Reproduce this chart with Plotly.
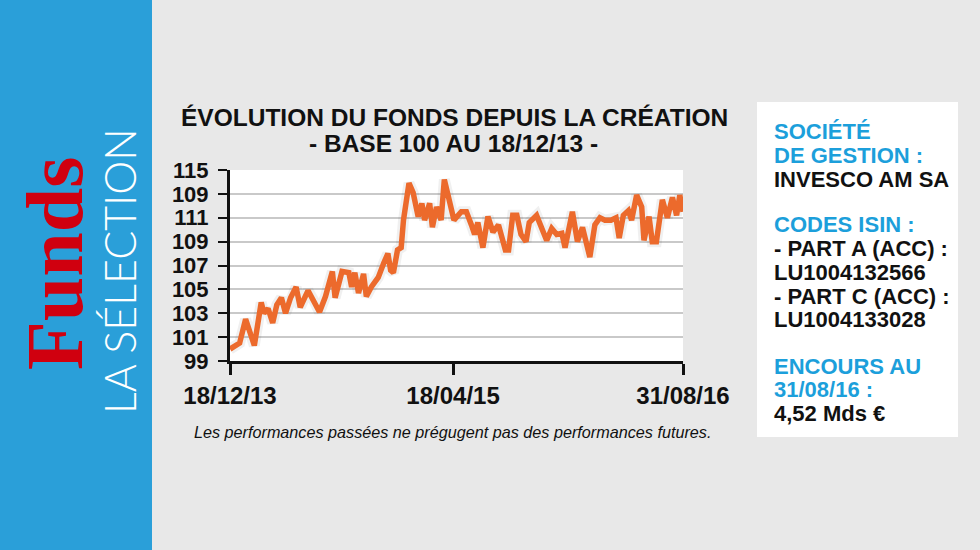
import plotly.graph_objects as go

# fund value, base 100 at 18/12/13
DATES = [
    "2013-12-18", "2013-12-29", "2014-01-08", "2014-01-21", "2014-01-29", "2014-02-09",
    "2014-02-24", "2014-03-02", "2014-03-11", "2014-03-21", "2014-03-30", "2014-04-09",
    "2014-04-18", "2014-04-29", "2014-05-11", "2014-05-20", "2014-06-06", "2014-06-21",
    "2014-07-01", "2014-07-14", "2014-07-29", "2014-08-04", "2014-08-19", "2014-09-03",
    "2014-09-09", "2014-09-16", "2014-09-24", "2014-10-05", "2014-10-11", "2014-10-22",
    "2014-11-06", "2014-11-18", "2014-11-27", "2014-12-03", "2014-12-09", "2014-12-18",
    "2014-12-26", "2014-12-31", "2015-01-08", "2015-01-12", "2015-01-21", "2015-02-01",
    "2015-02-09", "2015-02-15", "2015-02-26", "2015-03-04", "2015-03-13", "2015-03-23",
    "2015-03-30", "2015-04-09", "2015-04-20", "2015-05-06", "2015-05-17", "2015-05-28",
    "2015-06-04", "2015-06-11", "2015-06-22", "2015-07-03", "2015-07-14", "2015-07-26",
    "2015-08-03", "2015-08-10", "2015-08-17", "2015-08-26", "2015-09-04", "2015-09-13",
    "2015-09-24", "2015-10-01", "2015-10-17", "2015-10-28", "2015-11-08", "2015-11-19",
    "2015-11-30", "2015-12-11", "2015-12-18", "2016-01-03", "2016-01-14", "2016-01-25",
    "2016-02-10", "2016-02-21", "2016-03-03", "2016-03-14", "2016-03-27", "2016-04-07",
    "2016-04-14", "2016-04-23", "2016-05-04", "2016-05-11", "2016-05-22", "2016-06-02",
    "2016-06-07", "2016-06-18", "2016-06-25", "2016-07-04", "2016-07-17", "2016-07-28",
    "2016-08-08", "2016-08-17", "2016-08-24", "2016-08-31",
]
VALUES = [
    100.0, 100.3, 100.5, 102.5, 101.6, 100.3,
    103.9, 103.0, 103.4, 102.2, 103.7, 104.3,
    103.0, 104.3, 105.2, 103.5, 104.9, 103.9,
    103.1, 104.4, 106.5, 104.3, 106.5, 106.4,
    105.2, 106.4, 104.7, 106.3, 104.4, 105.2,
    106.0, 107.2, 108.0, 106.6, 106.4, 108.3,
    108.5, 110.8, 112.7, 113.9, 113.1, 111.1,
    112.2, 110.8, 112.2, 110.2, 111.9, 110.8,
    114.2, 112.7, 110.8, 111.5, 111.5, 110.4,
    109.6, 110.6, 108.5, 111.1, 109.8, 110.4,
    109.0, 108.3, 108.3, 111.2, 111.2, 109.6,
    109.0, 110.6, 111.2, 110.2, 109.1, 110.1,
    109.6, 109.7, 108.5, 111.5, 109.0, 110.2,
    107.7, 110.4, 111.0, 110.8, 110.8, 111.0,
    109.3, 111.2, 111.6, 110.8, 112.9, 111.9,
    109.1, 111.1, 109.0, 109.0, 112.5, 111.0,
    112.7, 111.2, 112.9, 111.5,
]

Y_TICKS = [99, 101, 103, 105, 107, 109, 111, 113, 115]
Y_TICK_TEXT = ["99", "101", "103", "105", "107", "109", "111", "109", "115"]
X_TICKS = ["2013-12-18", "2015-04-18", "2016-08-31"]
X_TICK_TEXT = ["18/12/13", "18/04/15", "31/08/16"]

TITLE = "ÉVOLUTION DU FONDS DEPUIS LA CRÉATION"
SUBTITLE = "- BASE 100 AU 18/12/13 -"
FOOTNOTE = "Les performances passées ne prégugent pas des performances futures."

INFO_LINES = [
    ("SOCIÉTÉ", "blue"),
    ("DE GESTION :", "blue"),
    ("INVESCO AM SA", "black"),
    ("CODES ISIN :", "blue"),
    ("- PART A (ACC) :", "black"),
    ("LU1004132566", "black"),
    ("- PART C (ACC) :", "black"),
    ("LU1004133028", "black"),
    ("ENCOURS AU", "blue"),
    ("31/08/16 :", "blue"),
    ("4,52 Mds €", "black"),
]
INFO_Y = [131, 155, 179, 224, 248, 272, 296, 319, 366, 389, 413]

W, H = 980, 550
PLOT_L, PLOT_R, PLOT_T, PLOT_B = 230, 683, 170, 361
BLUE = "#2a9fd9"
TEXT_BLUE = "#1c9fdb"
ORANGE = "#ec6a2c"
FONT = "Arial, Liberation Sans, sans-serif"


def px(x):
    return (x - PLOT_L) / (PLOT_R - PLOT_L)


def py(y):
    return (PLOT_B - y) / (PLOT_B - PLOT_T)


fig = go.Figure()

# soft halo under the line
fig.add_trace(go.Scatter(x=DATES, y=VALUES, mode="lines",
                         line=dict(color="rgba(0,0,0,0.06)", width=11),
                         hoverinfo="skip", showlegend=False))
fig.add_trace(go.Scatter(x=DATES, y=VALUES, mode="lines",
                         line=dict(color=ORANGE, width=5.5),
                         showlegend=False))

shapes = [
    # blue band on the left
    dict(type="rect", xref="paper", yref="paper", x0=px(0), x1=px(152), y0=py(0), y1=py(H),
         fillcolor=BLUE, line=dict(width=0), layer="below"),
    # white info box on the right
    dict(type="rect", xref="paper", yref="paper", x0=px(757), x1=px(958), y0=py(102), y1=py(437),
         fillcolor="white", line=dict(width=0), layer="below"),
]

annotations = [
    dict(text="Funds", x=px(55), y=py(264), textangle=-90,
         font=dict(family="Liberation Serif, DejaVu Serif, serif", size=80, color="#d0000f", weight="bold")),
    dict(text="LA SÉLECTION", x=px(119), y=py(271), textangle=-90,
         font=dict(family="Lato, Open Sans, sans-serif", size=43, color="white", weight=300)),
    dict(text=TITLE, x=px(454), y=py(117),
         font=dict(family=FONT, size=24.5, color="#111111", weight="bold")),
    dict(text=SUBTITLE, x=px(453), y=py(143),
         font=dict(family=FONT, size=24.5, color="#111111", weight="bold")),
    dict(text=FOOTNOTE, x=px(452), y=py(432),
         font=dict(family=FONT, size=16.2, color="#111111", style="italic")),
]
for (txt, col), yy in zip(INFO_LINES, INFO_Y):
    annotations.append(dict(
        text=txt, x=px(772), y=py(yy), xanchor="left",
        font=dict(family=FONT, size=22, weight="bold",
                  color=TEXT_BLUE if col == "blue" else "#111111"),
    ))
for a in annotations:
    a.update(xref="paper", yref="paper", showarrow=False)
    a.setdefault("xanchor", "center")
    a.setdefault("yanchor", "middle")

fig.update_layout(
    width=W, height=H,
    margin=dict(l=PLOT_L, r=W - PLOT_R, t=PLOT_T, b=H - PLOT_B, autoexpand=False),
    paper_bgcolor="#e8e8e8",
    plot_bgcolor="white",
    font=dict(family=FONT, color="#111111"),
    shapes=shapes,
    annotations=annotations,
    showlegend=False,
)
fig.update_xaxes(
    type="date", range=[X_TICKS[0], X_TICKS[-1]],
    tickvals=X_TICKS, ticktext=X_TICK_TEXT,
    showgrid=False, zeroline=False,
    showline=True, linecolor="#111111", linewidth=3,
    ticks="outside", ticklen=11, tickwidth=3, tickcolor="#111111",
    tickfont=dict(size=24, weight="bold", color="#111111"),
)
fig.update_yaxes(
    range=[99, 115], tickvals=Y_TICKS, ticktext=Y_TICK_TEXT,
    showgrid=True, gridcolor="#c9c9c9", gridwidth=2, zeroline=False,
    showline=True, linecolor="#111111", linewidth=3,
    ticks="outside", ticklen=9, tickwidth=2, tickcolor="#111111",
    ticklabelstandoff=5,
    tickfont=dict(size=22, weight="bold", color="#111111"),
)

# drop the default page margin so the figure sits at the window corner
fig.write_html("out.html", config={"displayModeBar": False},
               post_script="document.body.style.margin = '0';")
